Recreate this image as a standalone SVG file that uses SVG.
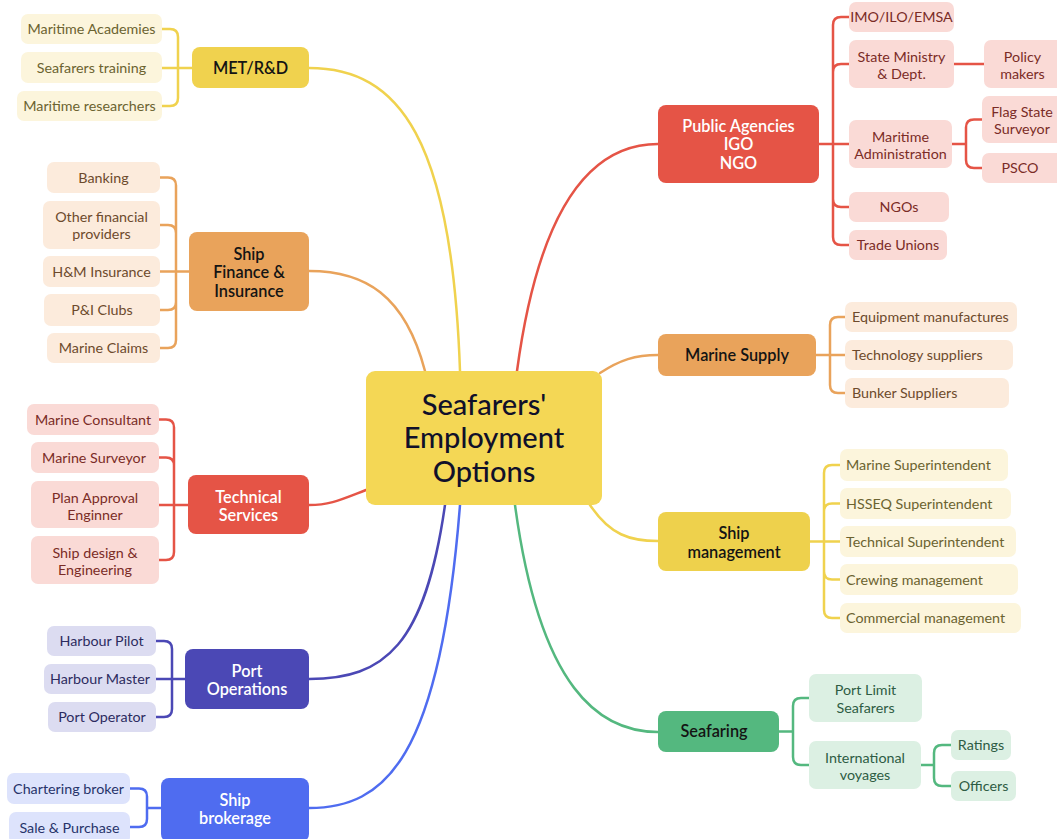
<svg xmlns="http://www.w3.org/2000/svg" width="1057" height="839" viewBox="0 0 1057 839">
<style>
text{font-family:Lato,"Noto Sans",sans-serif;text-anchor:middle}
.c{font-size:14.3px}
.m{font-size:16.3px;font-weight:600}
.s{text-anchor:start}
.w{fill:#fff}
.k{fill:#141414}
.ln{fill:none;stroke-width:2.5;stroke-linecap:round;stroke-linejoin:round}
.Y{stroke:#f0d24e}.O{stroke:#e9a35b}.R{stroke:#e55446}.I{stroke:#4b48b5}.B{stroke:#4f6cf0}.G{stroke:#54b87f}
.ly{fill:#fcf5dc}.ty{fill:#6b6330}
.lo{fill:#fcebdc}.to{fill:#6d4a2c}
.lr{fill:#fadad6}.tr{fill:#7a2c26}
.li{fill:#dcdcf1}.ti{fill:#2c2b60}
.lb{fill:#dde3fc}.tb{fill:#27336a}
.lg{fill:#dcf0e3}.tg{fill:#2e5c44}
</style>
<rect width="1057" height="839" fill="#fff"/>
<g id="connectors">
<path class="ln Y" d="M460,371 C452,140 400,68 309,68"/>
<path class="ln O" d="M425,371 C405,295 365,271 309,271"/>
<path class="ln R" d="M366,490 C340,500 330,505 309,505"/>
<path class="ln I" d="M445,505 C425,645 385,679 309,679"/>
<path class="ln B" d="M460,505 C440,760 385,808 309,808"/>
<path class="ln R" d="M517,371 C540,200 595,144 658,144"/>
<path class="ln O" d="M600,373 C620,360 635,355 658,355"/>
<path class="ln Y" d="M590,505 C610,535 630,541 658,541"/>
<path class="ln G" d="M515,505 C540,690 600,732 658,732"/>
<path class="ln Y" d="M192,68 H162 M178,68 V37 Q178,29 170,29 H162 M178,68 V98 Q178,106 170,106 H162"/>
<path class="ln O" d="M189,271.5 H160 M176,271.5 V185.5 Q176,177.5 168,177.5 H160 M176,271.5 V233 Q176,225 168,225 H160 M176,271.5 V302 Q176,310 168,310 H160 M176,271.5 V340 Q176,348 168,348 H160"/>
<path class="ln R" d="M188,505 H159 M174,505 V427.5 Q174,419.5 166,419.5 H159 M174,505 V465.5 Q174,457.5 166,457.5 H159 M174,505 V552 Q174,560 166,560 H159"/>
<path class="ln I" d="M185,679 H156 M172,679 V649 Q172,641 164,641 H156 M172,679 V709 Q172,717 164,717 H156"/>
<path class="ln B" d="M161,808 H147 M147,808 V796.5 Q147,788.5 139,788.5 H130 M147,808 V819 Q147,827 139,827 H130"/>
<path class="ln R" d="M819,144 H849 M833,144 V25 Q833,17 841,17 H849 M833,144 V72 Q833,64 841,64 H849 M833,144 V199 Q833,207 841,207 H849 M833,144 V237 Q833,245 841,245 H849"/>
<path class="ln R" d="M954,64 H984"/>
<path class="ln R" d="M952,144 H966 M966,144 V127.5 Q966,119.5 974,119.5 H982 M966,144 V160 Q966,168 974,168 H982"/>
<path class="ln O" d="M816,355 H845 M830,355 V325 Q830,317 838,317 H845 M830,355 V385 Q830,393 838,393 H845"/>
<path class="ln Y" d="M810,541.5 H840 M824,541.5 V473 Q824,465 832,465 H840 M824,541.5 V511.5 Q824,503.5 832,503.5 H840 M824,541.5 V571.5 Q824,579.5 832,579.5 H840 M824,541.5 V610 Q824,618 832,618 H840"/>
<path class="ln G" d="M779,731.5 H793 M793,731.5 V706 Q793,698 801,698 H809 M793,731.5 V757 Q793,765 801,765 H809"/>
<path class="ln G" d="M921,765 H934 M934,765 V753 Q934,745 942,745 H951 M934,765 V778 Q934,786 942,786 H951"/>
</g>

<g id="center">
<rect x="366" y="371" width="236" height="134" rx="9" fill="#f4d755"/>
<text x="484" y="415" font-size="29" font-weight="500" fill="#10102a">Seafarers'</text>
<text x="484" y="448" font-size="29" font-weight="500" fill="#10102a">Employment</text>
<text x="484" y="482" font-size="29" font-weight="500" fill="#10102a">Options</text>
</g>

<g id="met">
<rect x="192" y="47" width="117" height="41" rx="8" fill="#f0d24e"/>
<text class="m k" x="250.5" y="73.5">MET/R&amp;D</text>
</g>
<g id="met-academies"><rect class="ly" x="21" y="14" width="141" height="30" rx="7"/><text class="c ty" x="91.5" y="34">Maritime Academies</text></g>
<g id="met-training"><rect class="ly" x="21" y="52" width="141" height="31" rx="7"/><text class="c ty" x="91.5" y="72.5">Seafarers training</text></g>
<g id="met-research"><rect class="ly" x="17" y="91" width="145" height="30" rx="7"/><text class="c ty" x="89.5" y="111">Maritime researchers</text></g>

<g id="finance">
<rect x="189" y="232" width="120" height="79" rx="8" fill="#e9a35b"/>
<text class="m k" x="249" y="259.5">Ship</text>
<text class="m k" x="249" y="278">Finance &amp;</text>
<text class="m k" x="249" y="296.5">Insurance</text>
</g>
<g id="fin-banking"><rect class="lo" x="47" y="162" width="113" height="31" rx="7"/><text class="c to" x="103.5" y="182.5">Banking</text></g>
<g id="fin-other"><rect class="lo" x="43" y="201" width="117" height="48" rx="7"/><text class="c to" x="101.5" y="221.5">Other financial</text><text class="c to" x="101.5" y="238.5">providers</text></g>
<g id="fin-hm"><rect class="lo" x="43" y="256" width="117" height="31" rx="7"/><text class="c to" x="101.5" y="276.5">H&amp;M Insurance</text></g>
<g id="fin-pi"><rect class="lo" x="44" y="294" width="116" height="32" rx="7"/><text class="c to" x="102" y="315">P&amp;I Clubs</text></g>
<g id="fin-claims"><rect class="lo" x="47" y="333" width="113" height="30" rx="7"/><text class="c to" x="103.5" y="353">Marine Claims</text></g>

<g id="technical">
<rect x="188" y="475" width="121" height="59" rx="8" fill="#e55446"/>
<text class="m w" x="248.5" y="502.5">Technical</text>
<text class="m w" x="248.5" y="520.5">Services</text>
</g>
<g id="tech-consultant"><rect class="lr" x="27" y="404" width="132" height="31" rx="7"/><text class="c tr" x="93" y="424.5">Marine Consultant</text></g>
<g id="tech-surveyor"><rect class="lr" x="31" y="442" width="128" height="31" rx="7"/><text class="c tr" x="94" y="462.5">Marine Surveyor</text></g>
<g id="tech-plan"><rect class="lr" x="31" y="481" width="128" height="47" rx="7"/><text class="c tr" x="95" y="503">Plan Approval</text><text class="c tr" x="95" y="520">Enginner</text></g>
<g id="tech-design"><rect class="lr" x="31" y="536" width="128" height="48" rx="7"/><text class="c tr" x="95" y="558">Ship design &amp;</text><text class="c tr" x="95" y="575">Engineering</text></g>

<g id="port">
<rect x="185" y="649" width="124" height="60" rx="8" fill="#4b48b5"/>
<text class="m w" x="247" y="676.5">Port</text>
<text class="m w" x="247" y="694.5">Operations</text>
</g>
<g id="port-pilot"><rect class="li" x="47" y="626" width="109" height="30" rx="7"/><text class="c ti" x="101.5" y="646">Harbour Pilot</text></g>
<g id="port-master"><rect class="li" x="44" y="664" width="112" height="30" rx="7"/><text class="c ti" x="100" y="684">Harbour Master</text></g>
<g id="port-operator"><rect class="li" x="48" y="702" width="108" height="30" rx="7"/><text class="c ti" x="102" y="722">Port Operator</text></g>

<g id="brokerage">
<rect x="161" y="778" width="148" height="64" rx="8" fill="#4f6cf0"/>
<text class="m w" x="235" y="805.5">Ship</text>
<text class="m w" x="235" y="823.5">brokerage</text>
</g>
<g id="brok-chartering"><rect class="lb" x="7" y="773" width="123" height="31" rx="7"/><text class="c tb" x="68.5" y="793.5">Chartering broker</text></g>
<g id="brok-sale"><rect class="lb" x="9" y="812" width="121" height="32" rx="7"/><text class="c tb" x="69.5" y="833">Sale &amp; Purchase</text></g>

<g id="public">
<rect x="658" y="105" width="161" height="78" rx="8" fill="#e55446"/>
<text class="m w" x="738.5" y="131.5">Public Agencies</text>
<text class="m w" x="738.5" y="149.5">IGO</text>
<text class="m w" x="738.5" y="168.5">NGO</text>
</g>
<g id="pub-imo"><rect class="lr" x="849" y="2" width="105" height="30" rx="7"/><text class="c tr" x="901.5" y="22">IMO/ILO/EMSA</text></g>
<g id="pub-ministry"><rect class="lr" x="849" y="40" width="105" height="48" rx="7"/><text class="c tr" x="901.5" y="62">State Ministry</text><text class="c tr" x="901.5" y="79">&amp; Dept.</text></g>
<g id="pub-maradmin"><rect class="lr" x="849" y="120" width="103" height="48" rx="7"/><text class="c tr" x="900.5" y="142">Maritime</text><text class="c tr" x="900.5" y="159">Administration</text></g>
<g id="pub-ngos"><rect class="lr" x="849" y="192" width="100" height="30" rx="7"/><text class="c tr" x="899" y="212">NGOs</text></g>
<g id="pub-unions"><rect class="lr" x="849" y="230" width="98" height="30" rx="7"/><text class="c tr" x="898" y="250">Trade Unions</text></g>
<g id="pub-policy"><rect class="lr" x="984" y="40" width="82" height="48" rx="7"/><text class="c tr" x="1022.5" y="62">Policy</text><text class="c tr" x="1022.5" y="79">makers</text></g>
<g id="pub-flag"><rect class="lr" x="982" y="96" width="82" height="47" rx="7"/><text class="c tr" x="1022" y="117">Flag State</text><text class="c tr" x="1022" y="134">Surveyor</text></g>
<g id="pub-psco"><rect class="lr" x="982" y="153" width="82" height="30" rx="7"/><text class="c tr" x="1020" y="173">PSCO</text></g>

<g id="supply">
<rect x="658" y="334" width="158" height="42" rx="8" fill="#e9a35b"/>
<text class="m k" x="737" y="360.5">Marine Supply</text>
</g>
<g id="sup-equipment"><rect class="lo" x="845" y="302" width="172" height="30" rx="7"/><text class="c to s" x="852" y="322">Equipment manufactures</text></g>
<g id="sup-tech"><rect class="lo" x="845" y="340" width="168" height="30" rx="7"/><text class="c to s" x="852" y="360" font-size="13.5">Technology suppliers</text></g>
<g id="sup-bunker"><rect class="lo" x="845" y="378" width="164" height="30" rx="7"/><text class="c to s" x="852" y="398">Bunker Suppliers</text></g>

<g id="management">
<rect x="658" y="512" width="152" height="59" rx="8" fill="#eed14c"/>
<text class="m k" x="734" y="538.5">Ship</text>
<text class="m k" x="734" y="557.5">management</text>
</g>
<g id="mgmt-marine"><rect class="ly" x="840" y="449" width="168" height="32" rx="7"/><text class="c ty s" x="846" y="470">Marine Superintendent</text></g>
<g id="mgmt-hsseq"><rect class="ly" x="840" y="488" width="171" height="31" rx="7"/><text class="c ty s" x="846" y="508.5">HSSEQ Superintendent</text></g>
<g id="mgmt-technical"><rect class="ly" x="840" y="526" width="176" height="31" rx="7"/><text class="c ty s" x="846" y="546.5">Technical Superintendent</text></g>
<g id="mgmt-crewing"><rect class="ly" x="840" y="564" width="178" height="31" rx="7"/><text class="c ty s" x="846" y="584.5">Crewing management</text></g>
<g id="mgmt-commercial"><rect class="ly" x="840" y="603" width="181" height="30" rx="7"/><text class="c ty s" x="846" y="623">Commercial management</text></g>

<g id="seafaring">
<rect x="658" y="711" width="121" height="41" rx="8" fill="#54b87f"/>
<text class="m k" x="714" y="737">Seafaring</text>
</g>
<g id="sea-portlimit"><rect class="lg" x="809" y="674" width="113" height="48" rx="7"/><text class="c tg" x="865.5" y="695">Port Limit</text><text class="c tg" x="865.5" y="713">Seafarers</text></g>
<g id="sea-intl"><rect class="lg" x="809" y="741" width="112" height="48" rx="7"/><text class="c tg" x="865" y="763">International</text><text class="c tg" x="865" y="780">voyages</text></g>
<g id="sea-ratings"><rect class="lg" x="951" y="730" width="60" height="30" rx="7"/><text class="c tg" x="981" y="750">Ratings</text></g>
<g id="sea-officers"><rect class="lg" x="951" y="771" width="65" height="30" rx="7"/><text class="c tg" x="983.5" y="791">Officers</text></g>
</svg>
